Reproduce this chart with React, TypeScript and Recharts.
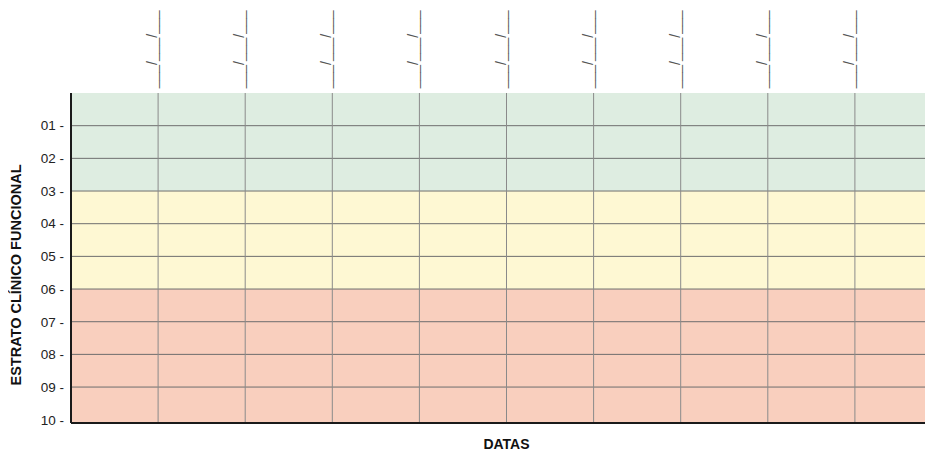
import React from "react";
import {
  ComposedChart,
  Line,
  XAxis,
  YAxis,
  ReferenceArea,
  ReferenceLine,
} from "recharts";

// Date slots (blank placeholders on the top axis)
const DATE_SLOTS = [1, 2, 3, 4, 5, 6, 7, 8, 9, 10];
const DATE_LABELS = [
  "___/___/___",
  "___/___/___",
  "___/___/___",
  "___/___/___",
  "___/___/___",
  "___/___/___",
  "___/___/___",
  "___/___/___",
  "___/___/___",
  "___/___/___",
];
// Recorded stratum per date (blank form: no values yet)
const ESTRATO_VALUES: (number | null)[] = [null, null, null, null, null, null, null, null, null, null];

// Y axis strata
const STRATA = [1, 2, 3, 4, 5, 6, 7, 8, 9, 10];
const STRATA_LABELS = ["01", "02", "03", "04", "05", "06", "07", "08", "09", "10"];

// Coloured bands (from, to)
const BAND_GREEN = [0, 3];
const BAND_YELLOW = [3, 6];
const BAND_RED = [6, 10.1];

const X_DOMAIN = [0, 10];
const Y_DOMAIN = [0, 10.1];

const GRID_X = [1, 2, 3, 4, 5, 6, 7, 8, 9];
const GRID_Y = [1, 2, 3, 4, 5, 6, 7, 8, 9];

const data = DATE_SLOTS.map((slot, i) => ({
  slot,
  label: DATE_LABELS[i],
  estrato: ESTRATO_VALUES[i],
}));

const FONT = "'Liberation Sans', Arial, Helvetica, sans-serif";

const TopTick = (props: any) => {
  const { x, y, payload } = props;
  const idx = DATE_SLOTS.indexOf(payload.value);
  return (
    <g transform={`translate(${x},${y})`}>
      <text
        transform="rotate(-90)"
        x={0}
        y={0}
        dy={-1}
        textAnchor="start"
        fontSize={14}
        fontFamily={FONT}
        fill="#555"
      >
        {idx >= 0 ? DATE_LABELS[idx] : ""}
      </text>
    </g>
  );
};

const YLabel = (props: any) => {
  const vb = props.viewBox || {};
  const cx = 8;
  const cy = (vb.y ?? 0) + (vb.height ?? 0) / 2 + 17;
  return (
    <text
      x={cx}
      y={cy}
      transform={`rotate(-90, ${cx}, ${cy})`}
      textAnchor="middle"
      dominantBaseline="central"
      fontSize={14.5}
      fontWeight="bold"
      fontFamily={FONT}
      fill="#111"
    >
      ESTRATO CLÍNICO FUNCIONAL
    </text>
  );
};

const XLabel = (props: any) => {
  const vb = props.viewBox || {};
  const cx = (vb.x ?? 0) + (vb.width ?? 0) / 2;
  return (
    <text
      x={cx}
      y={440.5}
      textAnchor="middle"
      fontSize={14}
      fontWeight="bold"
      fontFamily={FONT}
      fill="#111"
    >
      DATAS
    </text>
  );
};

export default function App() {
  return (
    <div style={{ width: 925, height: 442, overflow: "hidden" }}>
      <ComposedChart
        width={940}
        height={442}
        data={data}
        margin={{ top: 0, right: 6, bottom: 0, left: 0 }}
      >
        <XAxis
          xAxisId="top"
          dataKey="slot"
          type="number"
          orientation="top"
          domain={X_DOMAIN}
          ticks={DATE_SLOTS}
          interval={0}
          height={85}
          tickSize={0}
          tickMargin={4.7}
          tickLine={false}
          axisLine={false}
          tick={<TopTick />}
          allowDataOverflow
        />
        <XAxis
          xAxisId="bottom"
          dataKey="slot"
          type="number"
          orientation="bottom"
          domain={X_DOMAIN}
          height={27}
          tick={false}
          tickLine={false}
          axisLine={{ stroke: "#1a1a1a", strokeWidth: 2 }}
          label={<XLabel />}
          allowDataOverflow
        />
        <YAxis
          yAxisId="y"
          type="number"
          domain={Y_DOMAIN}
          reversed
          ticks={STRATA}
          interval={0}
          width={63}
          tickSize={0}
          tickMargin={7}
          tickLine={false}
          axisLine={{ stroke: "#1a1a1a", strokeWidth: 2 }}
          tick={{ fontSize: 13.5, fill: "#222", fontFamily: FONT }}
          tickFormatter={(v: number) => `${STRATA_LABELS[STRATA.indexOf(v)]} -`}
          label={<YLabel />}
          allowDataOverflow
        />
        <ReferenceArea
          xAxisId="top"
          yAxisId="y"
          y1={BAND_GREEN[0]}
          y2={BAND_GREEN[1]}
          fill="#deede1"
          fillOpacity={1}
          stroke="none"
        />
        <ReferenceArea
          xAxisId="top"
          yAxisId="y"
          y1={BAND_YELLOW[0]}
          y2={BAND_YELLOW[1]}
          fill="#fef8d3"
          fillOpacity={1}
          stroke="none"
        />
        <ReferenceArea
          xAxisId="top"
          yAxisId="y"
          y1={BAND_RED[0]}
          y2={BAND_RED[1]}
          fill="#f9cfbe"
          fillOpacity={1}
          stroke="none"
        />
        {GRID_Y.map((v) => (
          <ReferenceLine
            key={`gy${v}`}
            xAxisId="top"
            yAxisId="y"
            y={v}
            stroke="#6e6e6e"
            strokeWidth={1}
          />
        ))}
        {GRID_X.map((v) => (
          <ReferenceLine
            key={`gx${v}`}
            xAxisId="top"
            yAxisId="y"
            x={v}
            stroke="#8a8a8a"
            strokeWidth={1}
          />
        ))}
        <Line
          xAxisId="top"
          yAxisId="y"
          dataKey="estrato"
          stroke="#333"
          dot={false}
          isAnimationActive={false}
        />
      </ComposedChart>
    </div>
  );
}
